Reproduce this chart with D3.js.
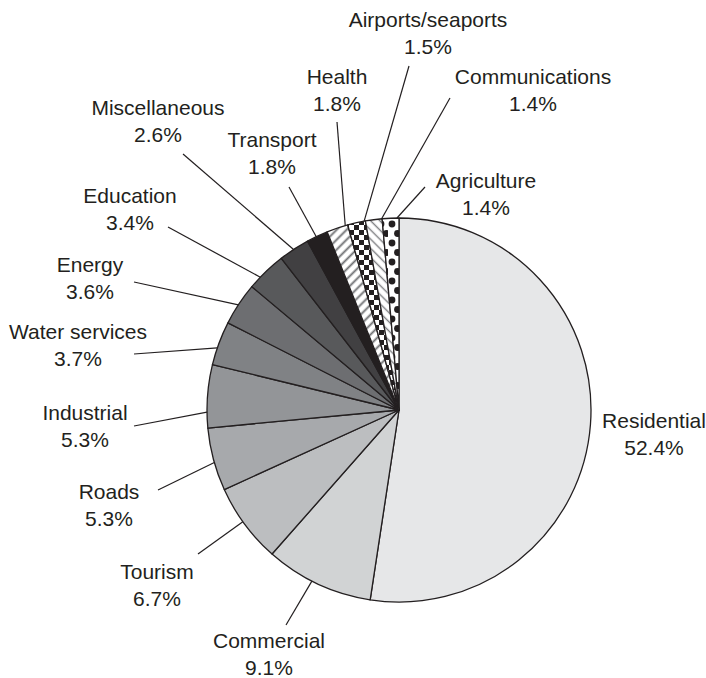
<!DOCTYPE html>
<html>
<head>
<meta charset="utf-8">
<script src="https://cdn.jsdelivr.net/npm/d3@7/dist/d3.min.js"></script>
<style>
  html, body { margin: 0; padding: 0; background: #fff; }
  svg { display: block; }
  text { font-family: "Liberation Sans", Arial, Helvetica, sans-serif; fill: #231f20; }
</style>
</head>
<body>
<svg id="chart" width="706" height="678"></svg>
<script>
// Sector shares (percent), clockwise from 12 o'clock
const categories = ["Residential", "Commercial", "Tourism", "Roads", "Industrial",
  "Water services", "Energy", "Education", "Miscellaneous", "Transport",
  "Health", "Airports/seaports", "Communications", "Agriculture"];
const shares = [52.4, 9.1, 6.7, 5.3, 5.3, 3.7, 3.6, 3.4, 2.6, 1.8, 1.8, 1.5, 1.4, 1.4];

// Fill for each sector: grey ramp, then hatch patterns
const fills = ["#e6e7e8", "#d1d3d4", "#bcbec0", "#a7a9ac", "#939598",
  "#808285", "#6d6e71", "#58595b", "#414042", "#231f20",
  "url(#hatch-fwd)", "url(#checks)", "url(#hatch-back)", "url(#dots)"];

// Label placement: text centre x, first-line centre y, leader outer end,
// and where along the slice's arc the leader meets the rim (0..1)
const labelLayout = {
  "Residential":       { x: 654, y: 420, end: null },
  "Commercial":        { x: 269, y: 640, end: [286, 625], t: 0.56 },
  "Tourism":           { x: 157, y: 571, end: [198, 554], t: 0.54 },
  "Roads":             { x: 109, y: 491, end: [158, 490], t: 0.45 },
  "Industrial":        { x: 85,  y: 412, end: [134, 426], t: 0.25 },
  "Water services":    { x: 78,  y: 331, end: [134, 354], t: 0.39 },
  "Energy":            { x: 90,  y: 264, end: [134, 282], t: 0.48 },
  "Education":         { x: 130, y: 195, end: [168, 227], t: 0.31 },
  "Miscellaneous":     { x: 158, y: 107, end: [183, 154], t: 0.48 },
  "Transport":         { x: 272, y: 139, end: [289, 187], t: 0.45 },
  "Health":            { x: 337, y: 76,  end: [337, 122], t: 0.88 },
  "Airports/seaports": { x: 428, y: 19,  end: [409, 66],  t: 0.93 },
  "Communications":    { x: 533, y: 76,  end: [450, 98],  t: 0.97 },
  "Agriculture":       { x: 486, y: 180, end: [425, 187], t: 0.88 }
};

const data = categories.map((c, i) => ({ name: c, value: shares[i], fill: fills[i] }));

const svg = d3.select("#chart");
const cx = 399, cy = 410, r = 192;
const ink = "#231f20";

// Patterns
const defs = svg.append("defs");
const fwd = defs.append("pattern").attr("id", "hatch-fwd")
  .attr("patternUnits", "userSpaceOnUse").attr("width", 7).attr("height", 7)
  .attr("patternTransform", "rotate(-45)");
fwd.append("rect").attr("width", 7).attr("height", 7).attr("fill", "#fff");
fwd.append("line").attr("x1", 0).attr("x2", 7).attr("y1", 3.5).attr("y2", 3.5)
  .attr("stroke", "#6f7073").attr("stroke-width", 1.9);

const back = defs.append("pattern").attr("id", "hatch-back")
  .attr("patternUnits", "userSpaceOnUse").attr("width", 6.5).attr("height", 6.5)
  .attr("patternTransform", "rotate(45)");
back.append("rect").attr("width", 6.5).attr("height", 6.5).attr("fill", "#fff");
back.append("line").attr("x1", 0).attr("x2", 6.5).attr("y1", 3.25).attr("y2", 3.25)
  .attr("stroke", "#7d7e81").attr("stroke-width", 1.4);

const checks = defs.append("pattern").attr("id", "checks")
  .attr("patternUnits", "userSpaceOnUse").attr("width", 10).attr("height", 10);
checks.append("rect").attr("width", 10).attr("height", 10).attr("fill", "#fff");
checks.append("rect").attr("width", 5).attr("height", 5).attr("fill", ink);
checks.append("rect").attr("x", 5).attr("y", 5).attr("width", 5).attr("height", 5).attr("fill", ink);

const dots = defs.append("pattern").attr("id", "dots")
  .attr("patternUnits", "userSpaceOnUse").attr("width", 11).attr("height", 19);
dots.append("rect").attr("width", 11).attr("height", 19).attr("fill", "#fff");
dots.append("circle").attr("cx", 4).attr("cy", 4).attr("r", 3.4).attr("fill", ink);
dots.append("circle").attr("cx", 9.5).attr("cy", 13.5).attr("r", 3.4).attr("fill", ink);

// Pie
const pie = d3.pie().sort(null).value(d => d.value).startAngle(0).endAngle(2 * Math.PI);
const arcs = pie(data);
const arc = d3.arc().innerRadius(0).outerRadius(r);

const g = svg.append("g").attr("transform", `translate(${cx},${cy})`);
g.selectAll("path.slice").data(arcs).join("path")
  .attr("class", "slice")
  .attr("d", arc)
  .attr("fill", d => d.data.fill)
  .attr("stroke", ink)
  .attr("stroke-width", 1.3)
  .attr("stroke-linejoin", "round");

// Leader lines
const rimPoint = (d, t) => {
  const a = d.startAngle + t * (d.endAngle - d.startAngle);
  return [cx + r * Math.sin(a), cy - r * Math.cos(a)];
};
const leaders = arcs.filter(d => labelLayout[d.data.name].end);
svg.selectAll("line.leader").data(leaders).join("line")
  .attr("class", "leader")
  .attr("x1", d => rimPoint(d, labelLayout[d.data.name].t)[0])
  .attr("y1", d => rimPoint(d, labelLayout[d.data.name].t)[1])
  .attr("x2", d => labelLayout[d.data.name].end[0])
  .attr("y2", d => labelLayout[d.data.name].end[1])
  .attr("stroke", ink)
  .attr("stroke-width", 1.2);

// Labels
const fmt = v => d3.format(".1f")(v) + "%";
const labels = svg.selectAll("text.label").data(arcs).join("text")
  .attr("class", "label")
  .attr("text-anchor", "middle")
  .attr("font-size", 21)
  .attr("x", d => labelLayout[d.data.name].x)
  .attr("y", d => labelLayout[d.data.name].y)
  .attr("dominant-baseline", "central");
labels.append("tspan").attr("x", d => labelLayout[d.data.name].x).text(d => d.data.name);
labels.append("tspan").attr("x", d => labelLayout[d.data.name].x).attr("dy", 26.5).text(d => fmt(d.data.value));
</script>
</body>
</html>
